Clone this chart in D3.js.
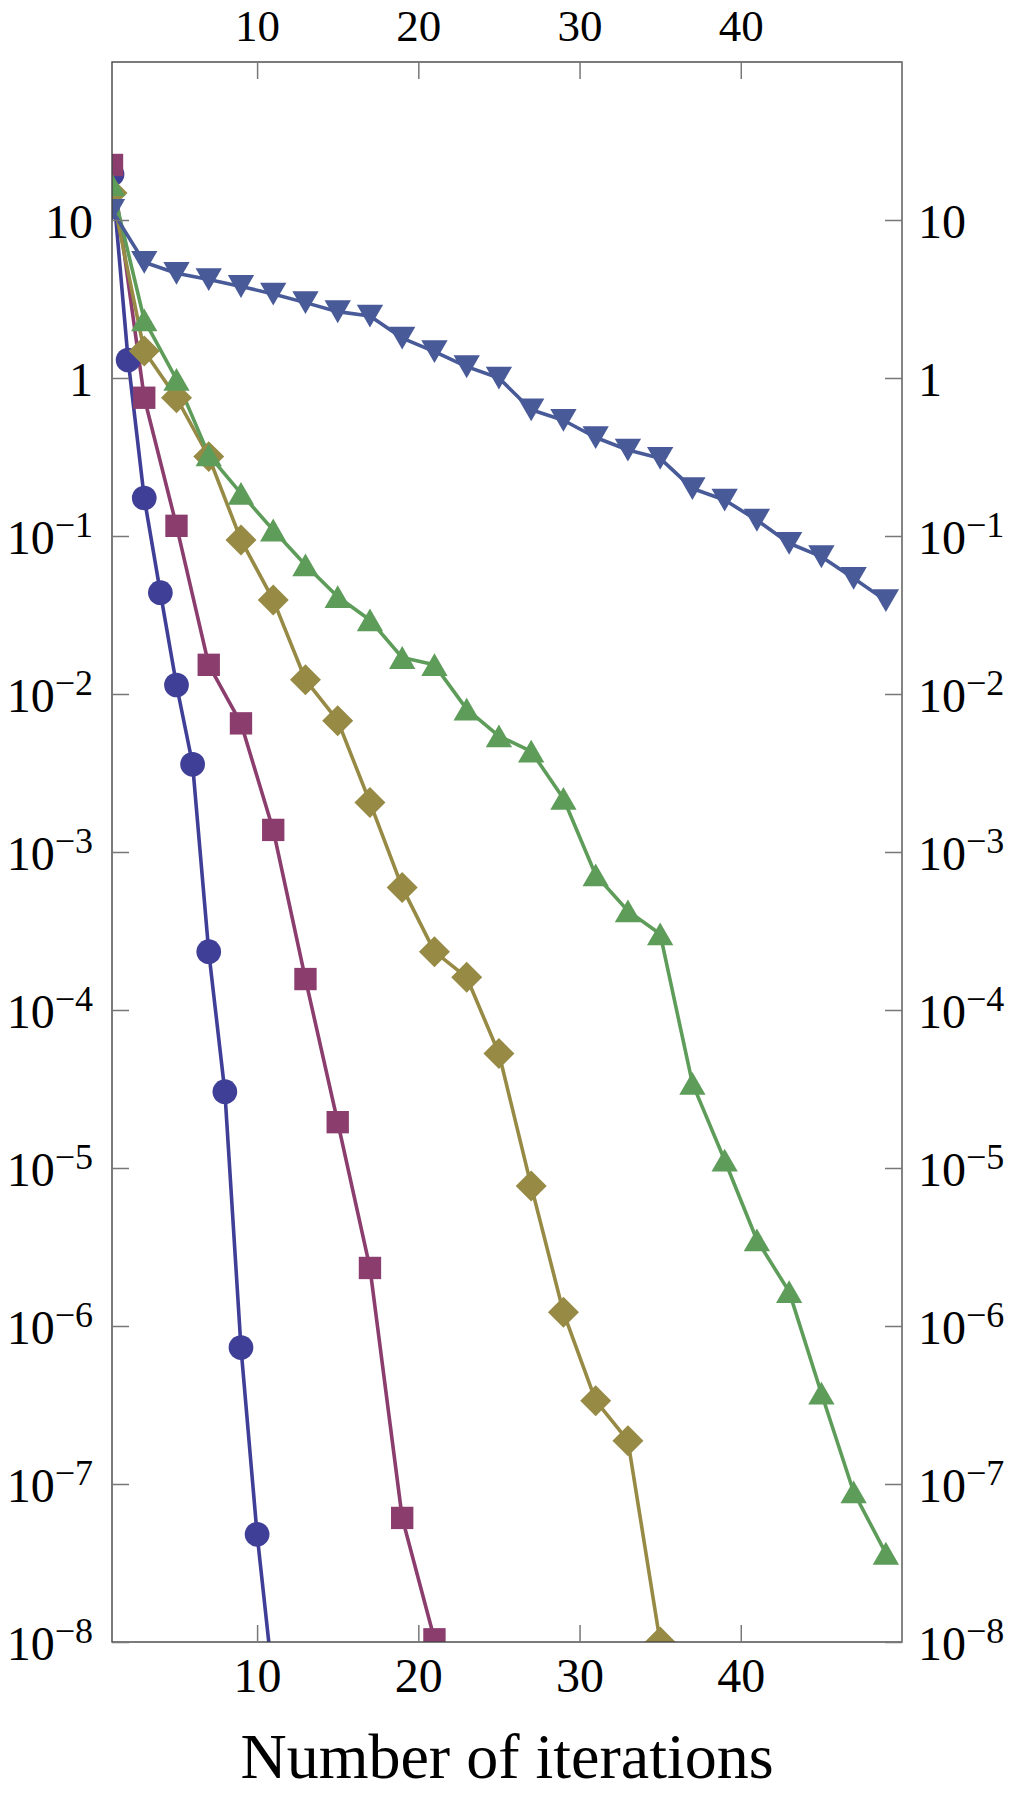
<!DOCTYPE html>
<html>
<head>
<meta charset="utf-8">
<script src="https://cdn.jsdelivr.net/npm/d3@7"></script>
<style>
  html, body { margin: 0; padding: 0; background: #fff; }
  svg text { font-family: "Liberation Serif", "Times New Roman", "DejaVu Serif", serif; fill: #000; }
</style>
</head>
<body>
<svg id="chart" width="1020" height="1800"></svg>
<script>
// ---- data ----
const xCircle = [1, 2, 3, 4, 5, 6, 7, 8, 9, 10, 11];
const yCircle = [19.5, 1.30, 0.174, 0.0438, 0.0114, 0.00359, 2.34e-4, 3.04e-5, 7.3e-7, 4.8e-8, 5.5e-9];

const xSquare = [1, 3, 5, 7, 9, 11, 13, 15, 17, 19, 21];
const ySquare = [22.3, 0.75, 0.116, 0.0153, 0.00652, 0.00138, 1.57e-4, 1.95e-5, 2.33e-6, 6.1e-8, 1.04e-8];

const xDiamond = [1, 3, 5, 7, 9, 11, 13, 15, 17, 19, 21, 23, 25, 27, 29, 31, 33, 35];
const yDiamond = [14.8, 1.48, 0.75, 0.318, 0.0944, 0.0394, 0.0123, 0.00678, 0.00206, 5.97e-4, 2.34e-4, 1.61e-4, 5.3e-5, 7.7e-6, 1.22e-6, 3.37e-7, 1.88e-7, 1.0e-8];

const xTriUp = [1, 3, 5, 7, 9, 11, 13, 15, 17, 19, 21, 23, 25, 27, 29, 31, 33, 35, 37, 39, 41, 43, 45, 47, 49];
const yTriUp = [16.7, 2.33, 0.98, 0.326, 0.186, 0.109, 0.0655, 0.0413, 0.0294, 0.017, 0.0153, 0.00802, 0.00542, 0.00434, 0.00218, 7.15e-4, 4.24e-4, 3.03e-4, 3.43e-5, 1.12e-5, 3.5e-6, 1.65e-6, 3.75e-7, 8.9e-8, 3.64e-8];

const xTriDown = [1, 3, 5, 7, 9, 11, 13, 15, 17, 19, 21, 23, 25, 27, 29, 31, 33, 35, 37, 39, 41, 43, 45, 47, 49];
const yTriDown = [11.5, 5.4, 4.6, 4.2, 3.8, 3.4, 3.0, 2.63, 2.47, 1.79, 1.47, 1.18, 1.0, 0.63, 0.54, 0.42, 0.35, 0.31, 0.20, 0.169, 0.126, 0.090, 0.074, 0.054, 0.039];

const xTicks = [10, 20, 30, 40];
const yTickExps = [1, 0, -1, -2, -3, -4, -5, -6, -7, -8];
const xLabel = "Number of iterations";

// ---- layout ----
const L = 112, R = 902, T = 62, B = 1642;
const svg = d3.select("#chart");
const x = d3.scaleLinear().domain([1, 50]).range([L, R]);
const y = d3.scaleLog().domain([1e2, 1e-8]).range([T, B]);

const series = [
  {xs: xCircle, ys: yCircle, color: "#3f3f97", shape: "circle"},
  {xs: xSquare, ys: ySquare, color: "#8b3d6e", shape: "square"},
  {xs: xDiamond, ys: yDiamond, color: "#968a45", shape: "diamond"},
  {xs: xTriUp, ys: yTriUp, color: "#5e9c5a", shape: "up"},
  {xs: xTriDown, ys: yTriDown, color: "#485a98", shape: "down"}
];

svg.append("defs").append("clipPath").attr("id", "clip")
  .append("rect").attr("x", L).attr("y", T).attr("width", R - L).attr("height", B - T);

const plot = svg.append("g").attr("clip-path", "url(#clip)");

const line = d3.line().x(d => x(d[0])).y(d => y(d[1]));
series.forEach(s => {
  const pts = s.xs.map((v, i) => [v, s.ys[i]]);
  plot.append("path").datum(pts)
    .attr("d", line)
    .attr("fill", "none")
    .attr("stroke", s.color)
    .attr("stroke-width", 3.6)
    .attr("stroke-linejoin", "round");
});

const shapeDef = {
  circle: {type: d3.symbolCircle, size: 480, rot: 0, dy: 0},
  square: {type: d3.symbolSquare, size: 500, rot: 0, dy: 0},
  diamond: {type: d3.symbolSquare, size: 480, rot: 45, dy: 0},
  up: {type: d3.symbolTriangle, size: 300, rot: 0, dy: 3.7},
  down: {type: d3.symbolTriangle, size: 300, rot: 180, dy: -3.7}
};

series.forEach(s => {
  const def = shapeDef[s.shape];
  const sym = d3.symbol().type(def.type).size(def.size);
  const pts = s.xs.map((v, i) => [v, s.ys[i]]);
  plot.append("g").selectAll("path").data(pts).join("path")
    .attr("d", sym)
    .attr("fill", s.color)
    .attr("transform", d => `translate(${x(d[0])},${y(d[1]) + def.dy}) rotate(${def.rot})`);
});

// ---- frame ----
svg.append("rect").attr("x", L).attr("y", T).attr("width", R - L).attr("height", B - T)
  .attr("fill", "none").attr("stroke", "#444").attr("stroke-width", 1.4);
svg.append("line").attr("x1", R).attr("x2", R).attr("y1", T).attr("y2", B)
  .attr("stroke", "#888").attr("stroke-width", 1.6);

// ---- axes ----
const yTickVals = yTickExps.map(e => Math.pow(10, e));
function fmtY(sel) {
  sel.selectAll(".tick text").each(function(d) {
    const e = Math.round(Math.log10(d));
    const t = d3.select(this);
    t.text(null).attr("dy", null).attr("y", 17);
    if (e === 1) { t.text("10"); }
    else if (e === 0) { t.text("1"); }
    else {
      t.append("tspan").text("10");
      t.append("tspan").attr("dy", -17).attr("font-size", 36).text("\u2212" + (-e));
    }
  });
}
function styleAxis(g) {
  g.select(".domain").remove();
  g.selectAll(".tick line").attr("stroke", "#777").attr("stroke-width", 1.5);
  g.selectAll(".tick text").attr("font-size", 48)
    .attr("font-family", "'Liberation Serif', 'Times New Roman', serif").attr("fill", "#000");
}

const gl = svg.append("g").attr("transform", `translate(${L},0)`)
  .call(d3.axisLeft(y).tickValues(yTickVals).tickSize(-17).tickPadding(19));
styleAxis(gl); fmtY(gl);

const gr = svg.append("g").attr("transform", `translate(${R},0)`)
  .call(d3.axisRight(y).tickValues(yTickVals).tickSize(-17).tickPadding(16));
styleAxis(gr); fmtY(gr);

const gb = svg.append("g").attr("transform", `translate(0,${B})`)
  .call(d3.axisBottom(x).tickValues(xTicks).tickSize(-17).tickPadding(16).tickFormat(d3.format("d")));
styleAxis(gb);
gb.selectAll(".tick text").attr("dy", "0.71em");

const gt = svg.append("g").attr("transform", `translate(0,${T})`)
  .call(d3.axisTop(x).tickValues(xTicks).tickSize(-17).tickPadding(21).tickFormat(d3.format("d")));
styleAxis(gt);
gt.selectAll(".tick text").attr("dy", "0em").attr("font-size", 45);

svg.append("text")
  .attr("x", (L + R) / 2).attr("y", 1778)
  .attr("text-anchor", "middle").attr("font-size", 64)
  .text(xLabel);
</script>
</body>
</html>
